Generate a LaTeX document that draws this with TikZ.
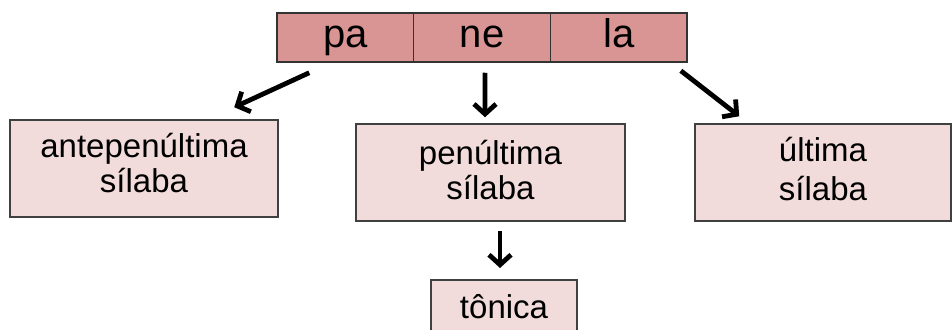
\documentclass[tikz,border=0pt]{standalone}
\usepackage{fontspec}
\setmainfont{Liberation Sans}
\usetikzlibrary{arrows.meta}
\definecolor{silfill}{HTML}{D99594}
\definecolor{boxfill}{HTML}{F2DCDB}
\tikzset{
    silbox/.style={draw=black!80, line width=1.5pt, fill=silfill, minimum width=136.7pt,
        minimum height=49pt, inner sep=0pt, text height=30pt, text depth=9pt,
        font=\fontsize{40}{44}\selectfont},
    infobox/.style={draw=black!75, line width=1.5pt, fill=boxfill, inner sep=0pt,
        align=center, font=\fontsize{33}{35}\selectfont},
    arr/.style={line width=4.8pt, -{Straight Barb[length=10pt,width=22pt]}}
}
\begin{document}
\begin{tikzpicture}[x=1pt,y=-1pt]
    \useasboundingbox (0,0) rectangle (952,329);

    % Word split in syllables
    \foreach \name/\x in {pa/345.35, ne/482.05, la/618.75} {
        \node[silbox] (\name) at (\x,37.5) {\name};
    }

    % Syllable boxes
    \node[infobox, minimum width=268pt, minimum height=97pt, text depth=12pt] (ante) at (144,168.5)
        {antepenúltima\\sílaba};
    \node[infobox, minimum width=269pt, minimum height=97pt, text depth=5pt] (pen) at (490.5,172.5)
        {penúltima\\sílaba};
    \node[infobox, minimum width=256pt, minimum height=97pt, text depth=7pt,
        font=\fontsize{33}{39}\selectfont] (ult) at (823,172.5)
        {última\\sílaba};

    % Stress
    \node[infobox, minimum width=146pt, minimum height=54pt, anchor=north] (ton) at (504,279)
        {tônica};

    % Arrows
    \draw[arr] ([xshift=33pt,yshift=-10pt]pa.south west) -- ([xshift=225pt,yshift=12pt]ante.north west);
    \draw[arr] ([xshift=3pt,yshift=-10pt]ne.south) -- ([xshift=-5.5pt,yshift=6pt]pen.north);
    \draw[arr] ([xshift=-7pt,yshift=-8pt]la.south east) -- ([xshift=45pt,yshift=7pt]ult.north west);
    \draw[arr] ([xshift=9.5pt,yshift=-9pt]pen.south) -- ([xshift=-4pt,yshift=11pt]ton.north);
\end{tikzpicture}
\end{document}
